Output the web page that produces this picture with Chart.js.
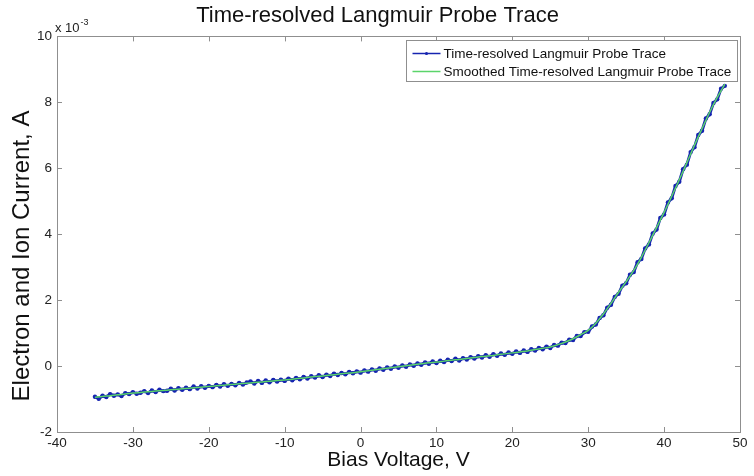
<!DOCTYPE html>
<html>
<head>
<meta charset="utf-8">
<title>Time-resolved Langmuir Probe Trace</title>
<script src="https://cdn.jsdelivr.net/npm/chart.js@4/dist/chart.umd.min.js"></script>
<style>
  body { margin: 0; background: #fff; }
</style>
</head>
<body>
<canvas id="grafica" width="754" height="476"></canvas>
<script>
// datos (corriente en unidades de 1e-3 A)
const biasRaw = [-35,-34.5,-34,-33.5,-33,-32.5,-32,-31.5,-31,-30.5,
  -30,-29.5,-29,-28.5,-28,-27.5,-27,-26.5,-26,-25.5,
  -25,-24.5,-24,-23.5,-23,-22.5,-22,-21.5,-21,-20.5,
  -20,-19.5,-19,-18.5,-18,-17.5,-17,-16.5,-16,-15.5,
  -15,-14.5,-14,-13.5,-13,-12.5,-12,-11.5,-11,-10.5,
  -10,-9.5,-9,-8.5,-8,-7.5,-7,-6.5,-6,-5.5,
  -5,-4.5,-4,-3.5,-3,-2.5,-2,-1.5,-1,-0.5,
  0,0.5,1,1.5,2,2.5,3,3.5,4,4.5,
  5,5.5,6,6.5,7,7.5,8,8.5,9,9.5,
  10,10.5,11,11.5,12,12.5,13,13.5,14,14.5,
  15,15.5,16,16.5,17,17.5,18,18.5,19,19.5,
  20,20.5,21,21.5,22,22.5,23,23.5,24,24.5,
  25,25.5,26,26.5,27,27.5,28,28.5,29,29.5,
  30,30.5,31,31.5,32,32.5,33,33.5,34,34.5,
  35,35.5,36,36.5,37,37.5,38,38.5,39,39.5,
  40,40.5,41,41.5,42,42.5,43,43.5,44,44.5,
  45,45.5,46,46.5,47,47.5,48];
const currentRaw = [-0.93,-0.99,-0.90,-0.94,-0.85,-0.90,-0.86,-0.91,-0.82,-0.85,
  -0.79,-0.84,-0.81,-0.76,-0.82,-0.74,-0.79,-0.72,-0.76,-0.75,
  -0.69,-0.74,-0.67,-0.72,-0.66,-0.70,-0.62,-0.68,-0.61,-0.66,
  -0.60,-0.64,-0.57,-0.62,-0.55,-0.60,-0.54,-0.58,-0.51,-0.56,
  -0.50,-0.47,-0.53,-0.45,-0.51,-0.44,-0.49,-0.42,-0.47,-0.41,
  -0.45,-0.38,-0.43,-0.36,-0.40,-0.33,-0.38,-0.31,-0.35,-0.28,
  -0.33,-0.26,-0.30,-0.23,-0.27,-0.21,-0.25,-0.18,-0.22,-0.16,
  -0.20,-0.13,-0.17,-0.10,-0.14,-0.07,-0.11,-0.04,-0.08,-0.01,
  -0.05,0.02,-0.02,0.05,0.01,0.08,0.04,0.11,0.07,0.14,
  0.09,0.16,0.12,0.19,0.15,0.22,0.17,0.24,0.20,0.27,
  0.23,0.30,0.26,0.33,0.28,0.36,0.31,0.38,0.34,0.41,
  0.37,0.44,0.40,0.47,0.43,0.51,0.47,0.55,0.51,0.59,
  0.55,0.64,0.62,0.71,0.70,0.80,0.79,0.91,0.91,1.03,
  1.04,1.20,1.26,1.46,1.54,1.77,1.86,2.10,2.19,2.44,
  2.51,2.77,2.85,3.15,3.25,3.57,3.69,4.02,4.14,4.49,
  4.60,4.96,5.09,5.46,5.59,5.97,6.11,6.49,6.64,7.01,
  7.14,7.51,7.64,7.98,8.09,8.41,8.50];

const biasSmooth = [-35,-34,-33,-32,-31,-30,-29,-28,-27,-26,
  -25,-24,-23,-22,-21,-20,-19,-18,-17,-16,
  -15,-14,-13,-12,-11,-10,-9,-8,-7,-6,
  -5,-4,-3,-2,-1,0,1,2,3,4,
  5,6,7,8,9,10,11,12,13,14,
  15,16,17,18,19,20,21,22,23,24,
  25,26,27,28,29,30,31,32,33,34,
  35,36,37,38,39,40,41,42,43,44,
  45,46,47,48];
const currentSmooth = [-0.95,-0.92,-0.90,-0.87,-0.85,-0.82,-0.80,-0.78,-0.76,-0.74,
  -0.72,-0.70,-0.68,-0.66,-0.64,-0.62,-0.60,-0.58,-0.56,-0.54,
  -0.52,-0.50,-0.48,-0.46,-0.44,-0.42,-0.40,-0.37,-0.35,-0.32,
  -0.30,-0.27,-0.25,-0.22,-0.20,-0.17,-0.14,-0.11,-0.08,-0.05,
  -0.02,0.01,0.04,0.07,0.10,0.12,0.15,0.18,0.20,0.23,
  0.26,0.29,0.31,0.34,0.37,0.40,0.43,0.46,0.50,0.54,
  0.58,0.65,0.73,0.83,0.95,1.08,1.30,1.58,1.90,2.24,
  2.56,2.90,3.30,3.74,4.20,4.66,5.15,5.65,6.17,6.70,
  7.20,7.70,8.15,8.55];

const seriesNames = ['Time-resolved Langmuir Probe Trace', 'Smoothed Time-resolved Langmuir Probe Trace'];
const xTicks = [-40, -30, -20, -10, 0, 10, 20, 30, 40, 50];
const yTicks = [-2, 0, 2, 4, 6, 8, 10];

const FUENTE = "'Liberation Sans', Arial, Helvetica, sans-serif";
const AZUL = '#1624b0';
const VERDE = '#5bd46a';

// caja estilo matlab, ticks hacia adentro, leyenda y etiqueta del eje y
const cajaMatlab = {
  id: 'cajaMatlab',
  afterDraw(chart) {
    const ctx = chart.ctx;
    const a = chart.chartArea;
    const xs = chart.scales.x;
    const ys = chart.scales.y;
    ctx.save();

    ctx.strokeStyle = '#8f8f8f';
    ctx.lineWidth = 1;
    ctx.strokeRect(Math.round(a.left) + 0.5, Math.round(a.top) + 0.5,
      Math.round(a.right - a.left), Math.round(a.bottom - a.top));

    ctx.beginPath();
    xs.ticks.forEach(t => {
      const px = Math.round(xs.getPixelForValue(t.value)) + 0.5;
      ctx.moveTo(px, a.bottom); ctx.lineTo(px, a.bottom - 5);
      ctx.moveTo(px, a.top); ctx.lineTo(px, a.top + 5);
    });
    ys.ticks.forEach(t => {
      const py = Math.round(ys.getPixelForValue(t.value)) + 0.5;
      ctx.moveTo(a.left, py); ctx.lineTo(a.left + 5, py);
      ctx.moveTo(a.right, py); ctx.lineTo(a.right - 5, py);
    });
    ctx.stroke();

    // multiplicador x 10^-3
    ctx.fillStyle = '#222';
    ctx.textBaseline = 'alphabetic';
    ctx.textAlign = 'left';
    ctx.font = '13px ' + FUENTE;
    ctx.fillText('x 10', a.left - 2, a.top - 4);
    const w = ctx.measureText('x 10').width;
    ctx.font = '9px ' + FUENTE;
    ctx.fillText('-3', a.left - 1 + w, a.top - 11);

    // etiqueta eje y
    ctx.save();
    ctx.translate(22, 256);
    ctx.rotate(-Math.PI / 2);
    ctx.textAlign = 'center';
    ctx.textBaseline = 'middle';
    ctx.font = '24px ' + FUENTE;
    ctx.fillStyle = '#111';
    ctx.fillText('Electron and Ion Current, A', 0, 0);
    ctx.restore();

    // leyenda
    const lw = 331, lh = 41;
    const lx = Math.round(a.right - 3 - lw) + 0.5;
    const ly = Math.round(a.top + 4) + 0.5;
    ctx.fillStyle = '#fff';
    ctx.fillRect(lx, ly, lw, lh);
    ctx.strokeStyle = '#8f8f8f';
    ctx.strokeRect(lx, ly, lw, lh);
    ctx.font = '13.5px ' + FUENTE;
    ctx.textBaseline = 'middle';
    ctx.fillStyle = '#111';
    const colores = [AZUL, VERDE];
    seriesNames.forEach((nombre, i) => {
      const cy = ly + 13 + i * 18;
      ctx.strokeStyle = colores[i];
      ctx.lineWidth = 1.5;
      ctx.beginPath();
      ctx.moveTo(lx + 6, cy); ctx.lineTo(lx + 34, cy);
      ctx.stroke();
      if (i === 0) {
        ctx.fillStyle = AZUL;
        ctx.beginPath();
        ctx.arc(lx + 20, cy, 1.6, 0, Math.PI * 2);
        ctx.fill();
        ctx.fillStyle = '#111';
      }
      ctx.fillText(nombre, lx + 37, cy + 1);
    });
    ctx.restore();
  }
};

window.onload = () => {
  const ctx = document.getElementById('grafica').getContext('2d');
  const puntosRaw = biasRaw.map((v, i) => ({ x: v, y: currentRaw[i] }));
  const puntosSmooth = biasSmooth.map((v, i) => ({ x: v, y: currentSmooth[i] }));

  new Chart(ctx, {
    type: 'line',
    data: {
      datasets: [{
        label: seriesNames[0],
        data: puntosRaw,
        borderColor: AZUL,
        backgroundColor: AZUL,
        borderWidth: 3,
        pointRadius: 2.2,
        pointBorderWidth: 0,
        tension: 0,
        order: 1
      }, {
        label: seriesNames[1],
        data: puntosSmooth,
        borderColor: VERDE,
        borderWidth: 1.5,
        pointRadius: 0,
        tension: 0.3,
        order: 0
      }]
    },
    plugins: [cajaMatlab],
    options: {
      responsive: false,
      animation: false,
      layout: { padding: { left: 15, right: 14, top: 0, bottom: 0 } },
      plugins: {
        legend: { display: false },
        tooltip: { enabled: false },
        title: {
          display: true,
          text: 'Time-resolved Langmuir Probe Trace',
          color: '#111',
          font: { family: FUENTE, size: 22, weight: 'normal' },
          padding: { top: 3, bottom: 7 }
        }
      },
      scales: {
        x: {
          type: 'linear',
          min: -40,
          max: 50,
          afterBuildTicks: s => { s.ticks = xTicks.map(v => ({ value: v })); },
          afterFit: s => { s.height = 44; },
          grid: { display: false, drawTicks: false },
          border: { display: false },
          ticks: { color: '#222', padding: 3, maxRotation: 0, font: { family: FUENTE, size: 13.5 } },
          title: {
            display: true,
            text: 'Bias Voltage, V',
            color: '#111',
            font: { family: FUENTE, size: 21 },
            padding: { top: 0, bottom: 3 }
          }
        },
        y: {
          type: 'linear',
          min: -2,
          max: 10,
          afterBuildTicks: s => { s.ticks = yTicks.map(v => ({ value: v })); },
          afterFit: s => { s.width = 42; },
          grid: { display: false, drawTicks: false },
          border: { display: false },
          ticks: { color: '#222', padding: 5, font: { family: FUENTE, size: 13.5 } }
        }
      }
    }
  });
};
</script>
</body>
</html>
